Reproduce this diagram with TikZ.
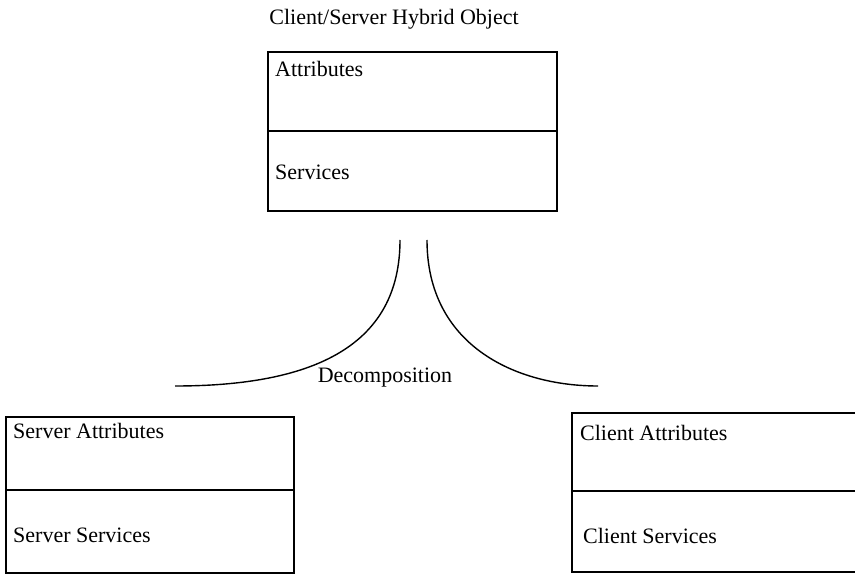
\documentclass[tikz,border=0pt]{standalone}
\usepackage{fontspec}
\setmainfont{Liberation Serif}
\begin{document}
\begin{tikzpicture}[x=1pt,y=-1pt,
  cell/.style={draw, line width=1.4pt, rectangle, inner sep=0pt, outer sep=0pt, anchor=north west},
  lbl/.style={inner sep=0pt, anchor=base west, font=\fontsize{22}{26}\selectfont},
  curve/.style={line width=1.4pt}]
\useasboundingbox (0,0) rectangle (855,575);
\clip (0,0) rectangle (855,575);
% title
\node[lbl, anchor=base] (title) at (394,25) {Client/Server Hybrid Object};
% top hybrid object
\node[cell, minimum width=289pt, minimum height=79pt] (hattr) at (268,52) {};
\node[cell, minimum width=289pt, minimum height=80pt] (hserv) at (hattr.south west) {};
\node[lbl] (hattrt) at (275,77) {Attributes};
\node[lbl] (hservt) at (275,180) {Services};
% decomposition curves
\coordinate (lt) at (400,240);
\coordinate (lb) at (175,386);
\coordinate (rt) at (427,240);
\coordinate (rb) at (598,386);
\draw[curve] (lt) .. controls (400,345) and (315,386) .. (lb);
\draw[curve] (rt) .. controls (427,345) and (515,386) .. (rb);
\node[lbl, anchor=base] (dec) at (385,382) {Decomposition};
% server object
\node[cell, minimum width=288pt, minimum height=73pt] (sattr) at (6,417) {};
\node[cell, minimum width=288pt, minimum height=83pt] (sserv) at (sattr.south west) {};
\node[lbl] (sattrt) at (13,438) {Server Attributes};
\node[lbl] (sservt) at (13,542) {Server Services};
% client object
\node[cell, minimum width=300pt, minimum height=78pt] (cattr) at (572,413) {};
\node[cell, minimum width=300pt, minimum height=81pt] (cserv) at (cattr.south west) {};
\node[lbl] (cattrt) at (580,440) {Client Attributes};
\node[lbl] (cservt) at (583,543) {Client Services};
\end{tikzpicture}
\end{document}
